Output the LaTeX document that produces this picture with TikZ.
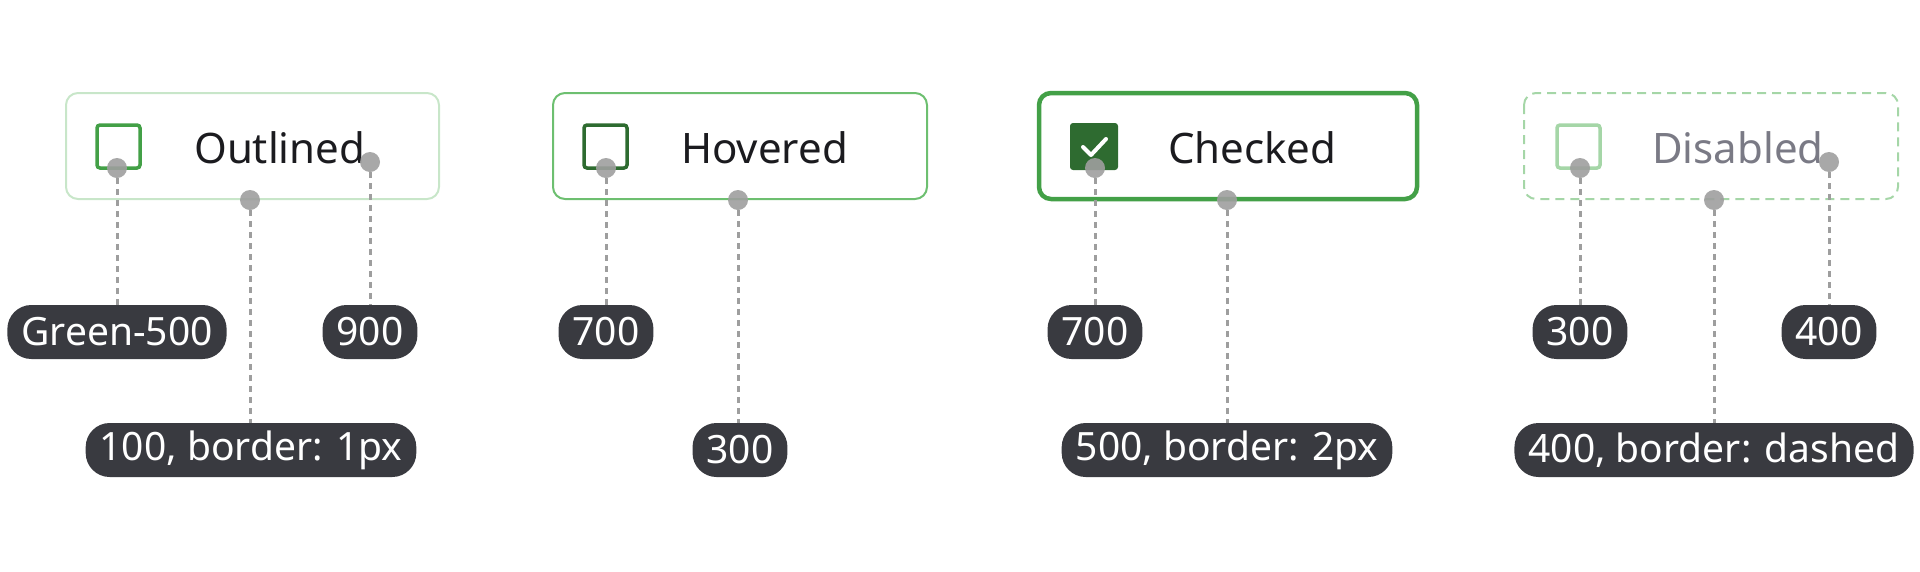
\documentclass[tikz,border=0pt]{standalone}
\usepackage{fontspec}
\setmainfont{Noto Sans}
\definecolor{g100}{HTML}{C8E6C9}
\definecolor{g300}{HTML}{6DBF70}
\definecolor{g300l}{HTML}{A5D6A7}
\definecolor{g500}{HTML}{43A047}
\definecolor{g700}{HTML}{2E6B30}
\definecolor{g900}{HTML}{1B1B1F}
\definecolor{pill}{HTML}{393A40}
\definecolor{dotc}{HTML}{9E9E9E}
\definecolor{dis}{HTML}{7A7A85}
\begin{document}
\begin{tikzpicture}[x=1pt,y=-1pt,
 card/.style={rounded corners=12pt},
 cb/.style={rounded corners=3pt,line width=3.5pt},
 ttl/.style={font=\fontsize{42}{48}\selectfont,anchor=west,inner sep=0pt},
 lab/.style={fill=pill,text=white,rounded corners=24pt,minimum height=54pt,inner xsep=14pt,font=\fontsize{39}{44}\selectfont},
 dot/.style={circle,fill=dotc,inner sep=0pt,minimum size=20pt,opacity=0.9},
 lead/.style={dotc,line width=3pt,dash pattern=on 6pt off 5pt}]
\useasboundingbox (0,0) rectangle (1920,571);
% cards
\draw[card,g100,line width=2pt] (66,93) rectangle (439,199);
\draw[card,g300,line width=2pt] (553,93) rectangle (927,199);
\draw[card,g500,line width=4.5pt] (1039,93) rectangle (1417,199);
\draw[card,g300l,line width=2pt,dash pattern=on 9pt off 6pt] (1524,93) rectangle (1898,199);
% checkboxes
\draw[cb,g500] (97,125) rectangle (140,168);
\draw[cb,g700] (584,125) rectangle (627,168);
\fill[g700,rounded corners=3pt] (1070,123) rectangle (1118,170);
\draw[white,line width=4pt,line cap=round,line join=round] (1083,147) -- (1091,155) -- (1106,139);
\draw[cb,g300l] (1557,125) rectangle (1600,168);
% titles
\node[ttl,text=g900] (t1) at (194,148) {Outlined};
\node[ttl,text=g900] (t2) at (681,148) {Hovered};
\node[ttl,text=g900] (t3) at (1168,148) {Checked};
\node[ttl,text=dis] (t4) at (1652,148) {Disabled};
% dots
\node[dot] (d1) at (117,168) {};
\node[dot] (d2) at (250,200) {};
\node[dot] (d3) at (370,162) {};
\node[dot] (d4) at (606,168) {};
\node[dot] (d5) at (738,200) {};
\node[dot] (d6) at (1095,168) {};
\node[dot] (d7) at (1227,200) {};
\node[dot] (d8) at (1580,168) {};
\node[dot] (d9) at (1714,200) {};
\node[dot] (d10) at (1829,162) {};
% labels
\node[lab] (l1) at (117,332) {Green-500};
\node[lab] (l2) at (251,450) {100, border: 1px};
\node[lab] (l3) at (370,332) {900};
\node[lab] (l4) at (606,332) {700};
\node[lab] (l5) at (740,450) {300};
\node[lab] (l6) at (1095,332) {700};
\node[lab] (l7) at (1227,450) {500, border: 2px};
\node[lab] (l8) at (1580,332) {300};
\node[lab] (l9) at (1714,450) {400, border: dashed};
\node[lab] (l10) at (1829,332) {400};
\foreach \a/\b in {d1/l1,d2/l2,d3/l3,d4/l4,d5/l5,d6/l6,d7/l7,d8/l8,d9/l9,d10/l10}
 \draw[lead] (\a) -- (\a |- \b.north);
\end{tikzpicture}
\end{document}
